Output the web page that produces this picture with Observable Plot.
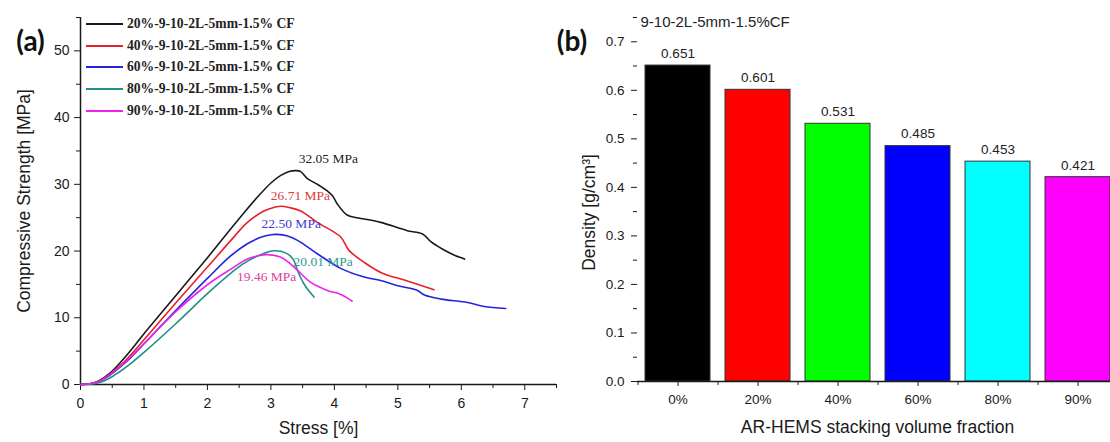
<!DOCTYPE html>
<html>
<head>
<meta charset="utf-8">
<script src="https://cdn.jsdelivr.net/npm/d3@7"></script>
<script src="https://cdn.jsdelivr.net/npm/@observablehq/plot@0.6"></script>
<style>
  html, body { margin: 0; padding: 0; background: #fff; }
  #wrap { position: relative; width: 1110px; height: 442px; overflow: hidden; background: #fff; }
  #left { position: absolute; left: 0; top: 0; width: 560px; height: 442px; }
  #right { position: absolute; left: 540px; top: 0; width: 580px; height: 442px; }
  #wrap svg { max-width: none !important; }
  #legend { position: absolute; left: 86px; top: 13px; font-family: "Liberation Serif", "Times New Roman", serif; font-weight: bold; font-size: 13.6px; color: #222; }
  .lrow { display: flex; align-items: center; height: 21.75px; }
  .lsw { width: 37px; height: 2px; margin-right: 4px; }
</style>
</head>
<body>
<div id="wrap">
  <div id="left"></div>
  <div id="right"></div>
  <div id="legend"></div>
</div>
<script>
// ---------- Panel (a) data ----------
const seriesNames = [
  "20%-9-10-2L-5mm-1.5% CF",
  "40%-9-10-2L-5mm-1.5% CF",
  "60%-9-10-2L-5mm-1.5% CF",
  "80%-9-10-2L-5mm-1.5% CF",
  "90%-9-10-2L-5mm-1.5% CF"
];
const strain20 = [0,0.15,0.3,0.45,0.6,0.8,1.0,1.5,2.0,2.34,2.6,2.8,3.0,3.15,3.3,3.4,3.47,3.57,3.75,3.89,3.97,4.05,4.2,4.35,4.47,4.73,5.0,5.15,5.39,5.52,5.7,5.91,6.0,6.05];
const stress20 = [0,0.1,0.6,1.6,3.0,5.2,7.6,13.3,19.0,23.0,26.0,28.2,30.2,31.3,31.95,32.05,31.9,30.9,29.9,29.0,28.3,27.0,25.4,25.0,24.8,24.3,23.5,23.05,22.55,21.4,20.3,19.3,19.0,18.8];
const strain40 = [0,0.15,0.3,0.45,0.6,0.8,1.0,1.5,2.0,2.37,2.63,2.89,3.0,3.15,3.3,3.47,3.73,4.1,4.23,4.47,4.73,5.15,5.57];
const stress40 = [0,0.1,0.5,1.4,2.6,4.5,6.7,12.2,17.6,21.6,24.3,26.0,26.4,26.71,26.5,26.0,24.3,22.1,20.1,18.3,16.8,15.5,14.2];
const strain60 = [0,0.15,0.3,0.45,0.6,0.8,1.0,1.5,2.02,2.37,2.63,2.84,3.0,3.1,3.25,3.42,3.73,4.1,4.47,4.73,5.0,5.31,5.42,5.68,6.1,6.36,6.7];
const stress60 = [0,0.1,0.5,1.3,2.4,4.1,6.1,11.1,16.1,19.3,21.1,22.05,22.45,22.5,22.3,21.6,19.6,17.4,16.1,15.6,14.8,14.1,13.4,12.8,12.3,11.7,11.4];
const strain80 = [0,0.15,0.3,0.45,0.6,0.8,1.0,1.5,2.02,2.37,2.55,2.8,3.02,3.12,3.21,3.3,3.36,3.44,3.52,3.6,3.68];
const stress80 = [0,0.05,0.3,0.9,1.8,3.2,4.8,9.1,13.8,16.7,18.0,19.3,20.01,20.0,19.8,19.3,18.6,16.6,15.1,14.0,13.1];
const strain90 = [0,0.15,0.3,0.45,0.6,0.8,1.0,1.5,2.02,2.37,2.63,2.8,2.95,3.15,3.28,3.42,3.63,3.89,4.1,4.28];
const stress90 = [0,0.1,0.5,1.4,2.5,4.2,6.1,10.9,15.1,17.3,18.8,19.3,19.46,19.1,18.3,17.1,15.3,14.1,13.5,12.5];
const peakStrain = [3.4, 3.15, 3.1, 3.02, 2.95];
const peakStress = [32.05, 26.71, 22.50, 20.01, 19.46];
const xTicksA = [0,1,2,3,4,5,6,7];
const yTicksA = [0,10,20,30,40,50];

// ---------- Panel (b) data ----------
const fractions = ["0%","20%","40%","60%","80%","90%"];
const densities = [0.651, 0.601, 0.531, 0.485, 0.453, 0.421];
const yTicksB = [0,0.1,0.2,0.3,0.4,0.5,0.6,0.7];

// ---------- styles ----------
const lineColors = ["#1a1a1a", "#e8202a", "#2424dc", "#1f8f88", "#ee22ee"];
const peakTextColors = ["#222222", "#e03c3c", "#3a3ad8", "#2a9a8e", "#e0409e"];
const peakOffsets = [[32, -12], [20, -11], [14, -11], [51, 11], [-1, 22]];
const barColors = ["#000000", "#ff0000", "#00ff00", "#0000ff", "#00ffff", "#ff00ff"];

const sans = "Liberation Sans, Arial, sans-serif";
const serif = "Liberation Serif, Times New Roman, serif";
const labelFont = "Lato, Open Sans, sans-serif";

// build rows
const strains = [strain20, strain40, strain60, strain80, strain90];
const stresses = [stress20, stress40, stress60, stress80, stress90];
const curveRows = [];
seriesNames.forEach((name, s) => {
  strains[s].forEach((x, i) => curveRows.push({series: name, strain: x, stress: stresses[s][i]}));
});
const peakRows = seriesNames.map((name, i) => ({series: name, strain: peakStrain[i], stress: peakStress[i], label: peakStress[i].toFixed(2) + " MPa"}));

const peakMarks = peakRows.map((p, i) => Plot.text([p], {
  x: "strain", y: "stress", text: "label",
  dx: peakOffsets[i][0], dy: peakOffsets[i][1],
  fill: peakTextColors[i], fontFamily: serif, fontSize: 13.5, textAnchor: "middle", lineAnchor: "middle"
}));

const left = Plot.plot({
  width: 560, height: 442,
  marginLeft: 80, marginRight: 4, marginTop: 17, marginBottom: 58,
  x: {domain: [0, 7.5]},
  y: {domain: [0, 55]},
  color: {domain: seriesNames, range: lineColors},
  style: {fontFamily: sans, fontSize: "14px", color: "#1a1a1a", background: "transparent", overflow: "visible"},
  marks: [
    Plot.axisY({ticks: yTicksA, tickSize: 6, tickPadding: 5, label: null, tickFormat: d => d}),
    Plot.axisY({ticks: d3.range(5, 56, 10), tickSize: 4, label: null, tickFormat: () => ""}),
    Plot.axisX({ticks: xTicksA, tickSize: 6, tickPadding: 8, label: null, tickFormat: d => d}),
    Plot.axisX({ticks: d3.range(0.5, 7.6, 1), tickSize: 4, label: null, tickFormat: () => ""}),
    Plot.ruleX([0], {strokeWidth: 1.5}),
    Plot.ruleY([0], {strokeWidth: 1.5}),
    Plot.line(curveRows, {x: "strain", y: "stress", z: "series", stroke: "series", strokeWidth: 1.6, curve: "catmull-rom"}),
    ...peakMarks,
    Plot.text(["Stress [%]"], {text: d => d, frameAnchor: "bottom", dy: 44, fontSize: 17.5, lineAnchor: "middle", textAnchor: "middle"}),
    Plot.text(["Compressive Strength [MPa]"], {text: d => d, frameAnchor: "left", dx: -56, rotate: -90, fontSize: 17.5, lineAnchor: "middle", textAnchor: "middle"}),
    Plot.text(["(a)"], {text: d => d, frameAnchor: "top-left", dx: -50, dy: 25, fontSize: 28, fontWeight: 700, fontFamily: labelFont, lineAnchor: "middle", textAnchor: "middle", fill: "#111"})
  ]
});
document.getElementById("left").appendChild(left);

// legend (HTML)
const legend = document.getElementById("legend");
seriesNames.forEach((name, i) => {
  const row = document.createElement("div");
  row.className = "lrow";
  const sw = document.createElement("span");
  sw.className = "lsw";
  sw.style.background = lineColors[i];
  const tx = document.createElement("span");
  tx.textContent = name;
  row.appendChild(sw); row.appendChild(tx);
  legend.appendChild(row);
});

// ---------- Panel (b) ----------
const barRows = fractions.map((f, i) => ({fraction: f, density: densities[i]}));
const right = Plot.plot({
  width: 580, height: 442,
  marginLeft: 97, marginRight: 3, marginTop: 17, marginBottom: 61,
  x: {domain: fractions, paddingInner: 0.1875, paddingOuter: 0.09375},
  y: {domain: [0, 0.75]},
  color: {domain: fractions, range: barColors},
  style: {fontFamily: sans, fontSize: "13.5px", color: "#1a1a1a", background: "transparent", overflow: "visible"},
  marks: [
    Plot.barY(barRows, {x: "fraction", y: "density", fill: "fraction", stroke: "#333", strokeWidth: 1}),
    Plot.text(barRows, {x: "fraction", y: "density", text: d => d.density.toFixed(3), dy: -12, fontSize: 13.5, lineAnchor: "middle", fill: "#222"}),
    Plot.axisY({ticks: yTicksB, tickSize: 6, tickPadding: 7, label: null, tickFormat: d3.format(".1f")}),
    Plot.axisY({ticks: d3.range(0.05, 0.76, 0.1), tickSize: 4, label: null, tickFormat: () => ""}),
    Plot.axisX({tickSize: 5, tickPadding: 8, label: null}),
    Plot.axisX({tickSize: 4, dx: -40, label: null, tickFormat: () => ""}),
    Plot.ruleX([0], {x: () => 0, frameAnchor: "left", strokeWidth: 1.5}),
    Plot.ruleY([0], {strokeWidth: 1.5}),
    Plot.text(["9-10-2L-5mm-1.5%CF"], {text: d => d, frameAnchor: "top-left", dx: 3, dy: 5, fontSize: 15, textAnchor: "start", lineAnchor: "middle", fill: "#222"}),
    Plot.text(["AR-HEMS stacking volume fraction"], {text: d => d, frameAnchor: "bottom", dy: 46, fontSize: 17.5, lineAnchor: "middle", textAnchor: "middle"}),
    Plot.text(["Density [g/cm³]"], {text: d => d, frameAnchor: "left", dx: -48, dy: 13, rotate: -90, fontSize: 17.5, lineAnchor: "middle", textAnchor: "middle"}),
    Plot.text(["(b)"], {text: d => d, frameAnchor: "top-left", dx: -65.5, dy: 25, fontSize: 28, fontWeight: 700, fontFamily: labelFont, lineAnchor: "middle", textAnchor: "middle", fill: "#111"})
  ]
});
document.getElementById("right").appendChild(right);
</script>
</body>
</html>
